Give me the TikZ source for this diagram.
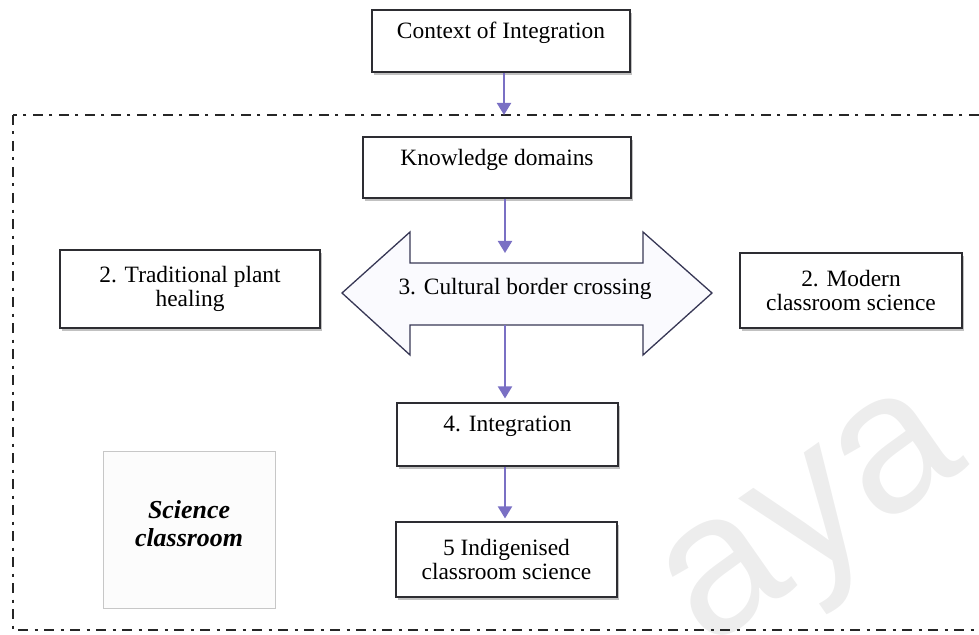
\documentclass[tikz,border=0pt]{standalone}
\usepackage{fontspec}
\setmainfont{Liberation Serif}
\newfontfamily\markfont{Liberation Sans}
\usetikzlibrary{arrows.meta,shadows,calc}

\definecolor{flowcol}{RGB}{122,112,196}
\definecolor{edgecol}{RGB}{45,45,50}
\definecolor{crossedge}{RGB}{55,55,85}
\definecolor{crossfill}{RGB}{250,250,254}

\begin{document}
\begin{tikzpicture}[x=1bp,y=-1bp,
  boxfont/.style={font=\fontsize{23.5}{24.5}\selectfont},
  box/.style={draw=edgecol, line width=1.1bp, fill=white, boxfont,
    align=center, inner sep=0pt,
    drop shadow={shadow xshift=2bp, shadow yshift=-3bp, opacity=0.35, fill=black!70}},
  oneline/.style={text depth=21bp},
  softbox/.style={draw=black!22, line width=1bp, fill=black!1, align=center, inner sep=0pt},
  flow/.style={draw=flowcol, line width=2bp, -{Triangle[width=14bp,length=12bp]}},
  frame/.style={draw=black!85, line width=1.8bp, dash pattern=on 10bp off 6.5bp on 3bp off 6.5bp}
]
\useasboundingbox (0,0) rectangle (979,635);
\clip (0,0) rectangle (979,635);

% faint watermark lettering
\node[rotate=35, text=black!7, font=\markfont\fontsize{200}{200}\selectfont] (mark) at (820,530) {aya};

% dash-dot enclosure of the classroom context
\draw[frame] (13,115) rectangle (995,630);
\coordinate (gate) at (504,115);

% boxes
\node[box, oneline, minimum width=258bp, minimum height=62bp] (ctx) at (501,41) {Context of Integration};
\node[box, oneline, minimum width=268bp, minimum height=61bp] (know) at (497,167.5) {Knowledge domains};
\node[box, minimum width=260bp, minimum height=78bp] (trad) at (190,289) {2. Traditional plant\\healing};
\node[box, minimum width=222bp, minimum height=75bp] (modern) at (851,290.5) {2. Modern\\classroom science};
\node[box, oneline, minimum width=221bp, minimum height=63bp] (integ) at (507.5,434.5) {4. Integration};
\node[box, minimum width=221bp, minimum height=75bp] (indig) at (506.5,559.5) {5 Indigenised\\classroom science};
\node[softbox, minimum width=172bp, minimum height=157bp, text depth=12bp,
      font=\fontsize{26}{29}\selectfont\bfseries\itshape] (sci) at (189,529.5) {Science\\classroom};

% two-headed border-crossing arrow
\draw[draw=crossedge, line width=1.3bp, fill=crossfill, line join=miter]
  (342,293) -- (410,232) -- (410,263) -- (643,263) -- (643,232) -- (712,293)
  -- (643,355) -- (643,325) -- (410,325) -- (410,355) -- cycle;
\node[boxfont] (cross) at (525,289) {3. Cultural border crossing};
\coordinate (crossin) at (505,253);
\coordinate (crossout) at (505,325);

% connectors
\draw[flow] (ctx.south -| gate) -- (gate);
\draw[flow] (know.south -| crossin) -- (crossin);
\draw[flow, shorten >=4bp] (crossout) -- (crossout |- integ.north);
\draw[flow, shorten >=3bp] (integ.south -| crossout) -- (crossout |- indig.north);
\end{tikzpicture}
\end{document}
